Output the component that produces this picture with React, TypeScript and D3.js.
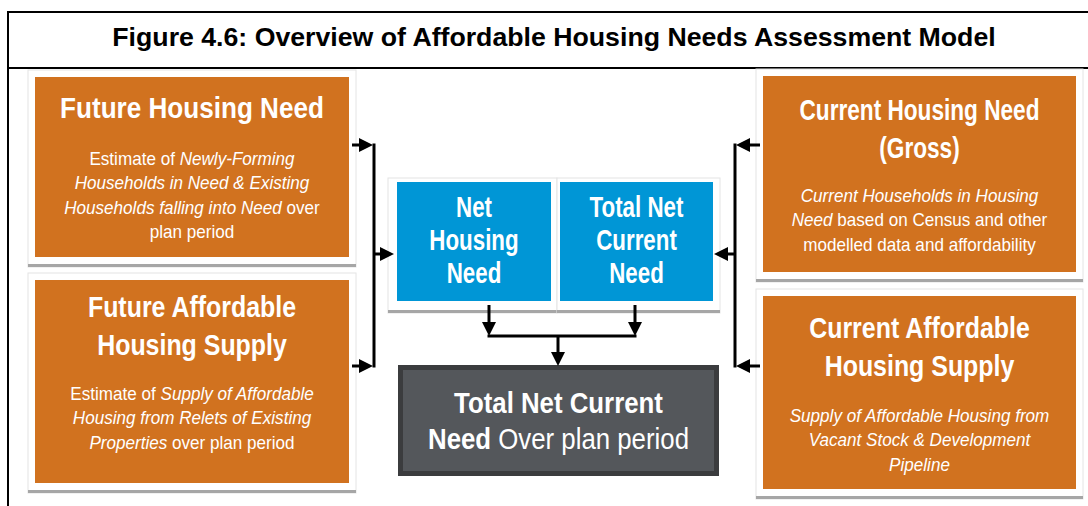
import * as d3 from 'd3';
import { useRef, useEffect } from 'react';

const figureTitle = 'Figure 4.6: Overview of Affordable Housing Needs Assessment Model';

// the four input boxes; *text* = italic, **text** = bold
const sourceHeadings = [
    ['Future Housing Need'],
    ['Future Affordable', 'Housing Supply'],
    ['Current Housing Need', '(Gross)'],
    ['Current Affordable', 'Housing Supply'],
];
const sourceBodies = [
    ['Estimate of *Newly-Forming*', '*Households in Need & Existing*', '*Households falling into Need* over', 'plan period'],
    ['Estimate of *Supply of Affordable*', '*Housing from Relets of Existing*', '*Properties* over plan period'],
    ['*Current Households in Housing*', '*Need* based on Census and other', 'modelled data and affordability'],
    ['*Supply of Affordable Housing from*', '*Vacant Stock & Development*', '*Pipeline*'],
];
const netBoxes = [
    ['Net', 'Housing', 'Need'],
    ['Total Net', 'Current', 'Need'],
];
const resultLines = ['**Total Net Current**', '**Need** Over plan period'];

// layout, kept apart from the content
const orangeRects = [
    { x: 35, y: 77, w: 314, h: 180, head: 118, body: 165, sx: 0.9 },
    { x: 35, y: 280, w: 314, h: 203, head: 317, body: 400, sx: 0.86 },
    { x: 763, y: 76, w: 313, h: 196, head: 120, body: 202, sx: 0.78 },
    { x: 763, y: 296, w: 313, h: 193, head: 338, body: 422, sx: 0.86 },
];
const blueRects = [
    { x: 397, y: 182, w: 154, h: 119, cx: 388, cw: 169 },
    { x: 560, y: 182, w: 153, h: 119, cx: 557, cw: 163 },
];
const darkRect = { x: 398, y: 365, w: 321, h: 111 };

const ORANGE = '#d1721f';
const BLUE = '#0096d6';
const FONT = '"Liberation Sans", Arial, sans-serif';

const parse = (s: string) =>
    s.split(/(\*\*[^*]+\*\*|\*[^*]+\*)/).filter(Boolean).map(p => {
        if (p.startsWith('**')) return { t: p.slice(2, -2), b: true, i: false };
        if (p.startsWith('*')) return { t: p.slice(1, -1), b: false, i: true };
        return { t: p, b: false, i: false };
    });

export default function App() {
    const svgRef = useRef<SVGSVGElement>(null);

    useEffect(() => {
        if (!svgRef.current) return;
        const svg = d3.select(svgRef.current);
        svg.selectAll('*').remove();

        const line = d3.line<[number, number]>();

        const textLine = (g: any, s: string, cx: number, y: number, size: number, sx: number, bold: boolean) => {
            const t = g.append('text')
                .attr('transform', `translate(${cx},${y}) scale(${sx},1)`)
                .attr('text-anchor', 'middle')
                .attr('font-family', FONT)
                .attr('font-size', size)
                .attr('fill', '#fff');
            parse(s).forEach(p => {
                t.append('tspan')
                    .attr('font-weight', bold || p.b ? 'bold' : 'normal')
                    .attr('font-style', p.i ? 'italic' : 'normal')
                    .text(p.t);
            });
        };

        // frame + title
        svg.append('path').attr('d', line([[8, 507], [8, 12], [1090, 12]]))
            .attr('fill', 'none').attr('stroke', '#000').attr('stroke-width', 2);
        svg.append('path').attr('d', line([[8, 68], [1090, 68]]))
            .attr('stroke', '#000').attr('stroke-width', 2);
        svg.append('text')
            .attr('x', 554).attr('y', 46)
            .attr('text-anchor', 'middle')
            .attr('font-family', FONT)
            .attr('font-weight', 'bold')
            .attr('font-size', 26.7)
            .text(figureTitle);

        // card = white panel with grey drop bar
        const card = (x: number, y: number, w: number, h: number) => {
            svg.append('rect').attr('x', x).attr('y', y).attr('width', w).attr('height', h)
                .attr('fill', '#fff').attr('stroke', '#e4e4e4').attr('stroke-width', 1);
            svg.append('rect').attr('x', x).attr('y', y + h - 3).attr('width', w).attr('height', 3)
                .attr('fill', '#a6a6a6');
        };

        orangeRects.forEach((r, i) => {
            card(r.x - 7, r.y - 7, r.w + 14, r.h + 17);
            svg.append('rect').attr('x', r.x).attr('y', r.y).attr('width', r.w).attr('height', r.h)
                .attr('fill', ORANGE);
            const g = svg.append('g');
            const cx = r.x + r.w / 2;
            sourceHeadings[i].forEach((s, k) => textLine(g, s, cx, r.head + k * 38, 29, r.sx, true));
            sourceBodies[i].forEach((s, k) => textLine(g, s, cx, r.body + k * 24.3, 18, 0.95, false));
        });

        blueRects.forEach((r, i) => {
            card(r.cx, 178, r.cw, 135);
            svg.append('rect').attr('x', r.x).attr('y', r.y).attr('width', r.w).attr('height', r.h)
                .attr('fill', BLUE);
            const g = svg.append('g');
            netBoxes[i].forEach((s, k) => textLine(g, s, r.x + r.w / 2, 217 + k * 33, 29, 0.77, true));
        });

        // result box
        svg.append('rect')
            .attr('x', darkRect.x + 2.5).attr('y', darkRect.y + 2.5)
            .attr('width', darkRect.w - 5).attr('height', darkRect.h - 5)
            .attr('fill', '#54575b').attr('stroke', '#3b3c3e').attr('stroke-width', 5);
        const rg = svg.append('g');
        resultLines.forEach((s, k) => textLine(rg, s, darkRect.x + darkRect.w / 2, 413 + k * 36, 29, 0.89, false));

        // connectors
        const stroke = (pts: [number, number][]) =>
            svg.append('path').attr('d', line(pts)).attr('fill', 'none')
                .attr('stroke', '#000').attr('stroke-width', 3);
        const arrow = (x1: number, y1: number, x2: number, y2: number) => {
            const a = Math.atan2(y2 - y1, x2 - x1);
            const L = 14, W = 7;
            const bx = x2 - L * Math.cos(a), by = y2 - L * Math.sin(a);
            stroke([[x1, y1], [bx, by]]);
            svg.append('path')
                .attr('d', line([
                    [x2, y2],
                    [bx - W * Math.sin(a), by + W * Math.cos(a)],
                    [bx + W * Math.sin(a), by - W * Math.cos(a)],
                ]) + 'Z')
                .attr('fill', '#000');
        };

        const leftX = 374, rightX = 735;
        const topY = 145, botY = 366, midY = 254;
        stroke([[leftX, topY - 1.5], [leftX, botY + 1.5]]);
        stroke([[rightX, topY - 1.5], [rightX, botY + 1.5]]);
        arrow(352, topY, leftX - 1, topY);
        arrow(352, botY, leftX - 1, botY);
        arrow(leftX, midY, blueRects[0].cx + 6, midY);
        arrow(760, topY, rightX + 1, topY);
        arrow(760, botY, rightX + 1, botY);
        arrow(rightX, midY, blueRects[1].x + blueRects[1].w + 1, midY);

        const c1 = 489, c2 = 635, joinY = 336;
        arrow(c1, 305, c1, joinY);
        arrow(c2, 305, c2, joinY);
        stroke([[c1 - 1.5, joinY], [c2 + 1.5, joinY]]);
        arrow(558, joinY, 558, darkRect.y + 1);
    }, []);

    return (
        <svg ref={svgRef} width={1088} height={506}
            style={{ position: 'absolute', left: 0, top: 0, background: '#fff' }} />
    );
}
